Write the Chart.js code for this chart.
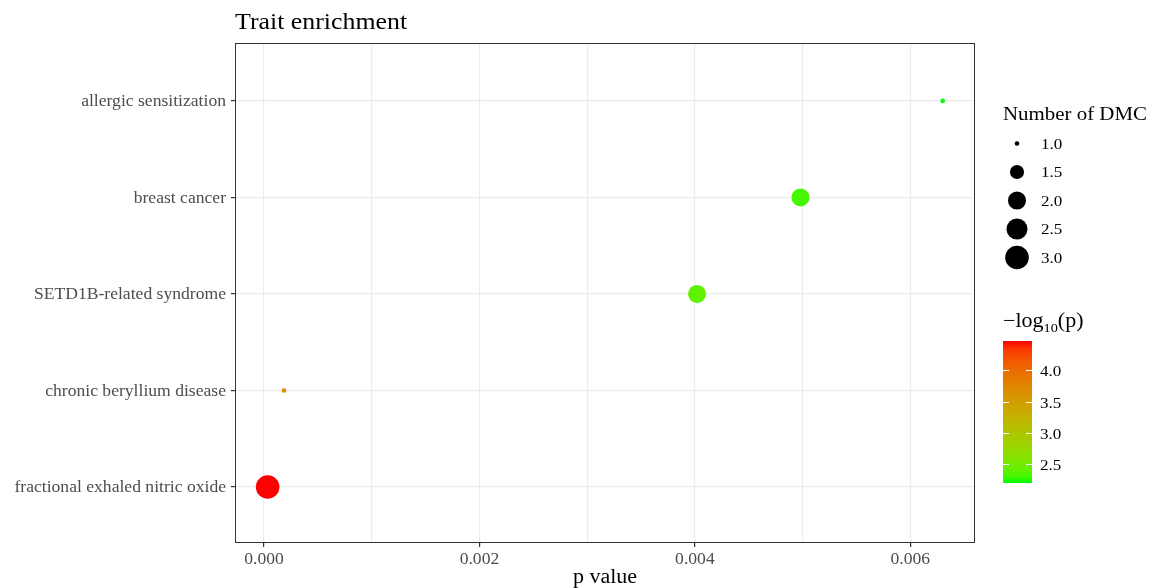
<!DOCTYPE html>
<html>
<head>
<meta charset="utf-8">
<script src="https://cdn.jsdelivr.net/npm/chart.js@4.4.0/dist/chart.umd.min.js"></script>
<style>
html,body{margin:0;padding:0;background:#fff;}
#wrap{width:1151px;height:588px;}
</style>
</head>
<body>
<div id="wrap"><canvas id="c" width="1151" height="588"></canvas></div>
<script>
// ---- data ----
const categories = ["fractional exhaled nitric oxide","chronic beryllium disease","SETD1B-related syndrome","breast cancer","allergic sensitization"];
const pValues = [0.000034, 0.000186, 0.00402, 0.00498, 0.0063];
const dmcCounts = [3, 1, 2, 2, 1];
const xTickValues = [0, 0.001, 0.002, 0.003, 0.004, 0.005, 0.006];
const xTickLabels = ["0.000", "", "0.002", "", "0.004", "", "0.006"];
const sizeLegendValues = [1.0, 1.5, 2.0, 2.5, 3.0];
const colorLegendTicks = [2.5, 3.0, 3.5, 4.0];

const negLog = pValues.map(p => -Math.log10(p));
const cMin = Math.min(...negLog), cMax = Math.max(...negLog);
const sMin = Math.min(...dmcCounts), sMax = Math.max(...dmcCounts);

// ---- colour scale (Lab interpolation green -> red) ----
function lin(c){c/=255;return c<=0.04045?c/12.92:Math.pow((c+0.055)/1.055,2.4);}
function unlin(c){c=c<=0.0031308?12.92*c:1.055*Math.pow(c,1/2.4)-0.055;return Math.round(Math.max(0,Math.min(1,c))*255);}
const XN=0.95047, ZN=1.08883;
function toLab(rgb){
  const R=lin(rgb[0]),G=lin(rgb[1]),B=lin(rgb[2]);
  const X=0.4124*R+0.3576*G+0.1805*B, Y=0.2126*R+0.7152*G+0.0722*B, Z=0.0193*R+0.1192*G+0.9505*B;
  const f=t=>t>0.008856?Math.cbrt(t):7.787*t+16/116;
  const fx=f(X/XN),fy=f(Y),fz=f(Z/ZN);
  return [116*fy-16,500*(fx-fy),200*(fy-fz)];
}
function fromLab(lab){
  const fy=(lab[0]+16)/116, fx=fy+lab[1]/500, fz=fy-lab[2]/200;
  const fi=t=>t*t*t>0.008856?t*t*t:(t-16/116)/7.787;
  const X=fi(fx)*XN,Y=fi(fy),Z=fi(fz)*ZN;
  const R=3.2406*X-1.5372*Y-0.4986*Z, G=-0.9689*X+1.8758*Y+0.0415*Z, B=0.0557*X-0.2040*Y+1.0570*Z;
  return `rgb(${unlin(R)},${unlin(G)},${unlin(B)})`;
}
const LOW=toLab([0,255,0]), HIGH=toLab([255,0,0]);
function colorFor(v){
  const t=Math.max(0,Math.min(1,(v-cMin)/(cMax-cMin)));
  return fromLab([0,1,2].map(i=>LOW[i]+(HIGH[i]-LOW[i])*t));
}
function radiusFor(n){
  const size = 1 + 5*Math.sqrt((n-sMin)/(sMax-sMin));
  return 1.9*size + 0.4;
}

const SERIF = "'Liberation Serif','Times New Roman',serif";
const STRETCH = 1.1;

function sText(ctx, txt, x, y, align, font, color, baseline){
  ctx.save();
  ctx.font = font; ctx.fillStyle = color;
  ctx.textAlign = align; ctx.textBaseline = baseline || 'alphabetic';
  ctx.translate(x, y); ctx.scale(STRETCH, 1);
  ctx.fillText(txt, 0, 0);
  const w = ctx.measureText(txt).width * STRETCH;
  ctx.restore();
  return w;
}

const decor = {
  id:'decor',
  afterDraw(chart){
    const ctx=chart.ctx, a=chart.chartArea;
    const xs=chart.scales.x, ys=chart.scales.y;
    ctx.save();
    // panel border
    ctx.strokeStyle='#333333'; ctx.lineWidth=1;
    ctx.strokeRect(Math.round(a.left)+0.5, Math.round(a.top)+0.5, Math.round(a.right-a.left)-1, Math.round(a.bottom-a.top)-1);
    // title
    sText(ctx,'Trait enrichment',235,29,'left',`23.5px ${SERIF}`,'#000');
    // tick labels
    categories.forEach((c,i)=>{
      sText(ctx,c,226,ys.getPixelForValue(i+1)+1,'right',`16px ${SERIF}`,'#4d4d4d','middle');
    });
    xTickValues.forEach((v,i)=>{
      if(xTickLabels[i]) sText(ctx,xTickLabels[i],xs.getPixelForValue(v),564,'center',`16px ${SERIF}`,'#4d4d4d');
    });
    // x title
    sText(ctx,'p value',(a.left+a.right)/2,583,'center',`20px ${SERIF}`,'#000');
    // size legend
    sText(ctx,'Number of DMC',1003,120,'left',`19px ${SERIF}`,'#000');
    ctx.fillStyle='#000';
    sizeLegendValues.forEach((v,i)=>{
      const cy=143.5+i*28.5;
      ctx.beginPath(); ctx.arc(1017, cy, radiusFor(v), 0, Math.PI*2); ctx.fill();
      sText(ctx,v.toFixed(1),1041,cy+1,'left',`15.5px ${SERIF}`,'#000','middle');
    });
    // colour legend title: −log10(p)
    let x=1003;
    x += sText(ctx,'\u2212log',x,327,'left',`20px ${SERIF}`,'#000');
    x += sText(ctx,'10',x,332,'left',`13px ${SERIF}`,'#000');
    sText(ctx,'(p)',x,327,'left',`20px ${SERIF}`,'#000');
    // colour bar
    const bx=1003, bw=29, bTop=341, bBot=483;
    const grad=ctx.createLinearGradient(0,bBot,0,bTop);
    for(let k=0;k<=20;k++){ grad.addColorStop(k/20, colorFor(cMin+(cMax-cMin)*k/20)); }
    ctx.fillStyle=grad; ctx.fillRect(bx,bTop,bw,bBot-bTop);
    const yOf=v=>bBot-(v-cMin)/(cMax-cMin)*(bBot-bTop);
    ctx.strokeStyle='#ffffff'; ctx.lineWidth=1;
    colorLegendTicks.forEach(v=>{
      const y=Math.round(yOf(v))+0.5;
      ctx.beginPath(); ctx.moveTo(bx,y); ctx.lineTo(bx+6,y); ctx.moveTo(bx+bw-6,y); ctx.lineTo(bx+bw,y); ctx.stroke();
      sText(ctx,v.toFixed(1),1040,y+1,'left',`15.5px ${SERIF}`,'#000','middle');
    });
    ctx.restore();
  }
};

new Chart(document.getElementById('c'), {
  type:'scatter',
  data:{
    datasets:[{
      data: pValues.map((p,i)=>({x:p, y:i+1})),
      pointRadius: dmcCounts.map(radiusFor),
      pointHoverRadius: dmcCounts.map(radiusFor),
      backgroundColor: negLog.map(colorFor),
      borderWidth:0
    }]
  },
  options:{
    responsive:false, animation:false,
    layout:{padding:{top:43,right:176,left:0,bottom:0}},
    plugins:{legend:{display:false},tooltip:{enabled:false},title:{display:false}},
    scales:{
      x:{
        type:'linear', min:-0.000269, max:0.0066,
        afterBuildTicks(s){ s.ticks = xTickValues.map(v=>({value:v})); },
        afterFit(s){ s.height=45; },
        grid:{color:'#ebebeb', lineWidth:1.2, drawTicks:true, tickLength:4,
              tickColor:(c)=> (c.tick && xTickLabels[xTickValues.indexOf(c.tick.value)]) ? '#333333' : 'rgba(0,0,0,0)'},
        border:{display:false},
        ticks:{autoSkip:false, maxRotation:0, padding:3, color:'rgba(0,0,0,0)', font:{family:SERIF,size:15},
               callback:(v,i)=> xTickLabels[i]}
      },
      y:{
        type:'linear', min:0.42, max:5.6,
        afterBuildTicks(s){ s.ticks = categories.map((c,i)=>({value:i+1})); },
        afterFit(s){ s.width=235; },
        grid:{color:'#ebebeb', lineWidth:1.2, drawTicks:true, tickLength:4, tickColor:'#333333'},
        border:{display:false},
        ticks:{autoSkip:false, padding:4, color:'rgba(0,0,0,0)', font:{family:SERIF,size:15},
               callback:(v,i)=> categories[i]}
      }
    }
  },
  plugins:[decor]
});
</script>
</body>
</html>
